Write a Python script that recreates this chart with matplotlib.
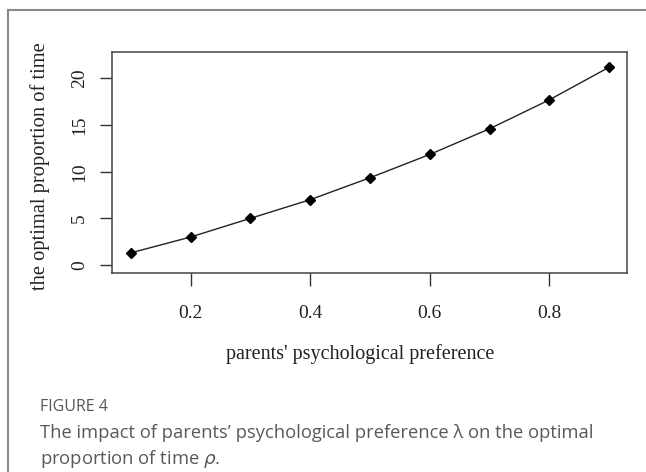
import matplotlib
matplotlib.use("Agg")
import matplotlib.pyplot as plt
from matplotlib.lines import Line2D

# Data
lam = [0.1, 0.2, 0.3, 0.4, 0.5, 0.6, 0.7, 0.8, 0.9]
rho = [1.3, 3.0, 5.0, 7.0, 9.35, 11.85, 14.6, 17.7, 21.2]
xticks = [0.2, 0.4, 0.6, 0.8]
yticks = [0, 5, 10, 15, 20]

W, H = 646, 472
fig = plt.figure(figsize=(W / 100, H / 100), dpi=100)
fig.patch.set_facecolor("white")

# card border (left + top)
fig.add_artist(Line2D([7.5 / W, 7.5 / W], [0, 1 - 9.5 / H], transform=fig.transFigure,
                      color="#8a8a8a", lw=1.5))
fig.add_artist(Line2D([7.5 / W, 1.0], [1 - 9.5 / H, 1 - 9.5 / H], transform=fig.transFigure,
                      color="#8a8a8a", lw=1.5))

left, right, top, bottom = 111.7, 627, 52.3, 273.3
ax = fig.add_axes([left / W, 1 - bottom / H, (right - left) / W, (bottom - top) / H])
ax.plot(lam, rho, color="#222222", lw=1.0, marker="D", markersize=5.5,
        markerfacecolor="black", markeredgecolor="black")
ax.set_xlim(0.068, 0.930)
ax.set_ylim(-0.89, 22.8)
ax.set_xticks(xticks)
ax.set_xticklabels([f"{v:.1f}" for v in xticks])
ax.set_yticks(yticks)
ax.set_yticklabels([str(v) for v in yticks], rotation=90, va="center")

serif = ["Liberation Serif", "DejaVu Serif"]
for lab in ax.get_xticklabels() + ax.get_yticklabels():
    lab.set_fontfamily(serif)
    lab.set_fontsize(14)
    lab.set_color("#222222")
ax.tick_params(axis="both", length=9, width=1.0, color="#333333", direction="out")
ax.tick_params(axis="x", pad=14)
ax.tick_params(axis="y", pad=8)
for s in ax.spines.values():
    s.set_color("#444444")
    s.set_linewidth(1.1)

ax.set_xlabel("parents' psychological preference", fontfamily=serif, fontsize=14.5,
              color="#222222", va="center")
ax.set_ylabel("the optimal proportion of time", fontfamily=serif, fontsize=14.8,
              color="#222222", va="center")
# label positions in pixel terms
ax_w, ax_h = right - left, bottom - top
ax.xaxis.set_label_coords((360 - left) / ax_w, -(354 - bottom) / ax_h)
ax.yaxis.set_label_coords(-(left - 40) / ax_w, (bottom - 166.5) / ax_h)

sans = ["Open Sans", "DejaVu Sans"]
fig.text(40 / W, 1 - 407 / H, "FIGURE 4", fontfamily=sans, fontsize=11.5,
         color="#555555", va="center", ha="left")
fig.text(40 / W, 1 - 433 / H,
         "The impact of parents\u2019 psychological preference \u03bb on the optimal",
         fontfamily=sans, fontsize=13.2, color="#595959", va="center", ha="left")
fig.text(40 / W, 1 - 459 / H, "proportion of time $\\rho$.",
         fontfamily=sans, fontsize=13.2, color="#595959", va="center", ha="left")

fig.savefig("out.png", dpi=100, facecolor="white")
